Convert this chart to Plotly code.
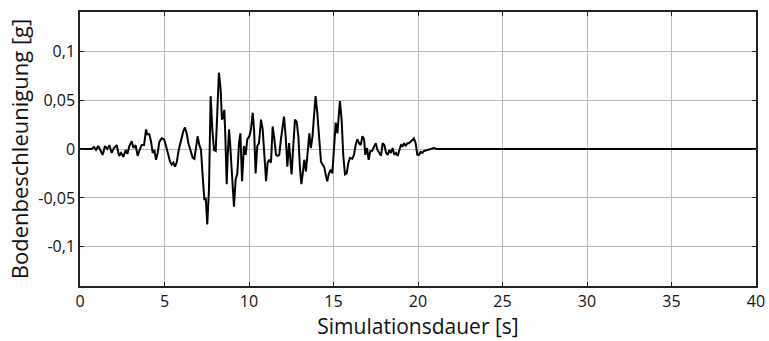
import plotly.graph_objects as go

# Time [s] and ground acceleration [g]
time_s = [0.0, 0.30, 0.69, 0.83, 0.95, 1.08, 1.22, 1.34, 1.48, 1.62, 1.74, 1.87, 2.01, 2.17, 2.31, 2.43,
          2.56, 2.70, 2.80, 2.92, 3.06, 3.16, 3.29, 3.41, 3.55, 3.65, 3.79, 3.91, 3.98, 4.10, 4.20,
          4.30, 4.40, 4.50, 4.60, 4.69, 4.83, 4.97, 5.09, 5.19, 5.33, 5.42, 5.52, 5.62, 5.72, 5.84,
          5.98, 6.11, 6.21, 6.31, 6.41, 6.55, 6.67, 6.77, 6.86, 6.96, 7.06, 7.16, 7.26, 7.36, 7.44,
          7.53, 7.63, 7.73, 7.83, 7.93, 8.03, 8.13, 8.22, 8.32, 8.40, 8.48, 8.54, 8.60, 8.68, 8.74,
          8.82, 8.88, 8.97, 9.11, 9.21, 9.31, 9.41, 9.49,
          9.59, 9.70, 9.80, 9.90, 10.02, 10.12, 10.22, 10.30, 10.39, 10.49, 10.59, 10.71, 10.81,
          10.91, 11.01, 11.10, 11.20, 11.30, 11.40, 11.50, 11.60, 11.70, 11.79, 11.89, 11.99, 12.07,
          12.17, 12.27, 12.37, 12.47, 12.52, 12.62, 12.72, 12.82, 12.92, 13.02, 13.10, 13.18, 13.27,
          13.37, 13.47, 13.57, 13.66, 13.76, 13.86, 13.94, 14.04, 14.16, 14.26, 14.36, 14.46, 14.56,
          14.63, 14.73, 14.83, 14.93, 15.03, 15.13, 15.23, 15.33, 15.38, 15.48, 15.58, 15.68, 15.78,
          15.88, 15.98, 16.11, 16.21, 16.31, 16.41, 16.51, 16.61, 16.71, 16.81, 16.88, 16.98, 17.08,
          17.18, 17.28, 17.40, 17.50, 17.60, 17.69, 17.81, 17.91, 18.01, 18.11, 18.21, 18.30, 18.40,
          18.50, 18.60, 18.70, 18.80, 18.90, 18.99, 19.09, 19.17, 19.27, 19.37, 19.47, 19.57, 19.66,
          19.76, 19.86, 19.96, 20.06, 20.16, 20.26, 20.36, 20.55, 20.75, 20.95, 21.10, 40.0]
accel_g = [0.0, 0.0, 0.000, 0.002, -0.001, 0.003, -0.002, -0.006, 0.003, 0.0, 0.004, -0.004, 0.001, 0.004,
           -0.007, -0.004, -0.008, -0.001, -0.005, 0.003, 0.008, 0.001, 0.004, -0.007, 0.0, 0.004, 0.004,
           0.020, 0.015, 0.015, 0.008, -0.004, -0.001, -0.011, -0.004, 0.007, 0.011, 0.010, 0.003,
           -0.004, -0.013, -0.016, -0.014, -0.018, -0.014, -0.001, 0.010, 0.018, 0.022, 0.016, 0.006,
           -0.001, -0.009, -0.010, 0.003, 0.013, 0.004, -0.001, -0.028, -0.052, -0.050, -0.077, -0.042,
           0.054, 0.020, -0.001, -0.002, 0.037, 0.078, 0.061, 0.030, 0.033, 0.040, 0.013, -0.036,
           -0.007, 0.020, 0.006, -0.018, -0.059, -0.031, -0.025, 0.006, 0.016,
           -0.033, 0.003, -0.006, 0.010, 0.013, 0.020, 0.037, 0.020, -0.025, 0.003, 0.006, 0.030, 0.020,
           -0.014, -0.033, -0.014, -0.011, -0.014, 0.023, 0.010, -0.006, -0.007, -0.006, 0.010, 0.023,
           0.033, 0.013, -0.018, 0.006, -0.014, -0.026, 0.003, 0.030, 0.028, 0.013, -0.021, -0.036,
           -0.025, -0.011, -0.023, -0.001, 0.016, 0.001, 0.013, 0.037, 0.054, 0.037, 0.003, -0.013,
           -0.016, -0.019, -0.028, -0.033, -0.025, -0.021, -0.025, 0.006, 0.027, 0.016, 0.033, 0.049,
           0.030, -0.007, -0.026, -0.025, -0.014, -0.009, -0.010, -0.006, 0.004, 0.010, 0.006, 0.004,
           0.013, 0.010, -0.006, 0.001, -0.011, -0.002, -0.002, 0.003, 0.006, -0.001, -0.004, -0.007,
           0.006, 0.004, -0.004, -0.006, -0.001, -0.004, 0.001, -0.006, -0.004, -0.007, -0.001, 0.004,
           0.003, 0.006, 0.003, 0.006, 0.006, 0.008, 0.010, 0.011, 0.006, -0.006, -0.006, -0.003,
           -0.004, -0.002, -0.001, 0.000, 0.001, 0.0, 0.0]

x_ticks = [0, 5, 10, 15, 20, 25, 30, 35, 40]
y_ticks = [-0.1, -0.05, 0, 0.05, 0.1]
y_tick_labels = ["-0,1", "-0,05", "0", "0,05", "0,1"]

FONT = "Open Sans"

fig = go.Figure()
fig.add_trace(go.Scatter(x=time_s, y=accel_g, mode="lines",
                         line=dict(color="black", width=2), showlegend=False))

fig.update_layout(
    width=769, height=341,
    margin=dict(l=80, r=13, t=12, b=55, autoexpand=False),
    paper_bgcolor="white", plot_bgcolor="white",
    font=dict(family=FONT, color="#111111", size=16),
    separators=",.",
)
fig.update_xaxes(
    automargin=False,
    range=[0, 40], tickvals=x_ticks, showgrid=True, gridcolor="#b8b8b8", gridwidth=1,
    zeroline=False, showline=True, linecolor="#222222", linewidth=1.5, mirror="ticks",
    ticks="inside", ticklen=4, tickcolor="#222222",
    tickfont=dict(size=16, family=FONT),
    title=dict(text="Simulationsdauer [s]", font=dict(size=21, family=FONT), standoff=3),
)
fig.update_yaxes(
    automargin=False,
    range=[-0.14, 0.14], tickvals=y_ticks, ticktext=y_tick_labels, showgrid=True,
    gridcolor="#b8b8b8", gridwidth=1, zeroline=False, showline=True, linecolor="#222222",
    linewidth=1.5, mirror="ticks", ticks="inside", ticklen=4, tickcolor="#222222",
    tickfont=dict(size=16, family=FONT),
    title=dict(text="Bodenbeschleunigung [g]", font=dict(size=22, family=FONT), standoff=4),
)

fig.write_html("out.html")
